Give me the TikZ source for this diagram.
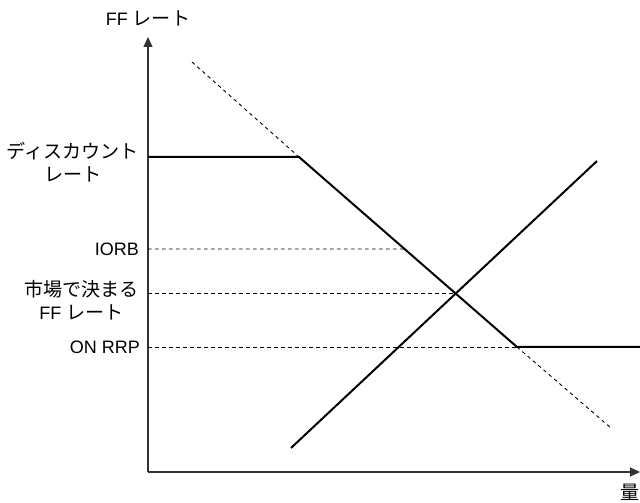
\documentclass[tikz,border=0pt]{standalone}
\usepackage{fontspec}
\setmainfont{Liberation Sans}
\newfontfamily\jpfont[Scale=1.06]{Noto Sans CJK JP}
\usetikzlibrary{arrows.meta}

\begin{document}
\begin{tikzpicture}[x=1pt,y=1pt,
  axis/.style={line width=1.2pt,draw=black!80,-{Triangle[length=10pt,width=9pt]}},
  curve/.style={line width=2pt,line join=miter},
  guide/.style={line width=0.9pt,dash pattern=on 3.5pt off 3.5pt},
  lbl/.style={font=\fontsize{18}{23.5}\selectfont,align=center,inner sep=0pt}]
\useasboundingbox (0,0) rectangle (640,503);

% Key points
\coordinate (O) at (148,31);
\coordinate (ytip) at (148,466);
\coordinate (xtip) at (640,31);
\coordinate (dtop) at (192,441);
\coordinate (disc) at (299,346);
\coordinate (rrp) at (517,156);
\coordinate (dbot) at (611,75);
\coordinate (rrpend) at (640,156);
\coordinate (s1) at (291,55);
\coordinate (s2) at (597,342);
\coordinate (iorb) at (intersection of disc--rrp and 148,254--640,254);
\coordinate (eq) at (intersection of disc--rrp and s1--s2);

% Axes
\draw[axis] (O) -- (ytip);
\draw[axis] (O) -- (xtip);

% Guide lines
\draw[guide] (dtop) -- (disc);
\draw[guide] (rrp) -- (dbot);
\draw[guide] (148,254) -- (iorb);
\draw[guide] (O |- eq) -- (eq);
\draw[guide] (O |- rrp) -- (rrp);

% Demand (kinked) and supply
\draw[curve] (O |- disc) -- (disc) -- (rrp) -- (rrpend);
\draw[curve] (s1) -- (s2);

% Labels
\node[lbl] (ylab) at (148,485) {FF {\jpfont レート}};
\node[lbl,anchor=east] (disclab) at (139,341) {\jpfont ディスカウント\\\jpfont レート};
\node[lbl,anchor=east] (iorblab) at (139,254) {IORB};
\node[lbl,anchor=east] (eqlab) at (139,203) {\jpfont 市場で決まる\\FF {\jpfont レート}};
\node[lbl,anchor=east] (rrplab) at (140,156) {ON RRP};
\node[lbl] (xlab) at (630,11) {\jpfont 量};
\end{tikzpicture}
\end{document}
